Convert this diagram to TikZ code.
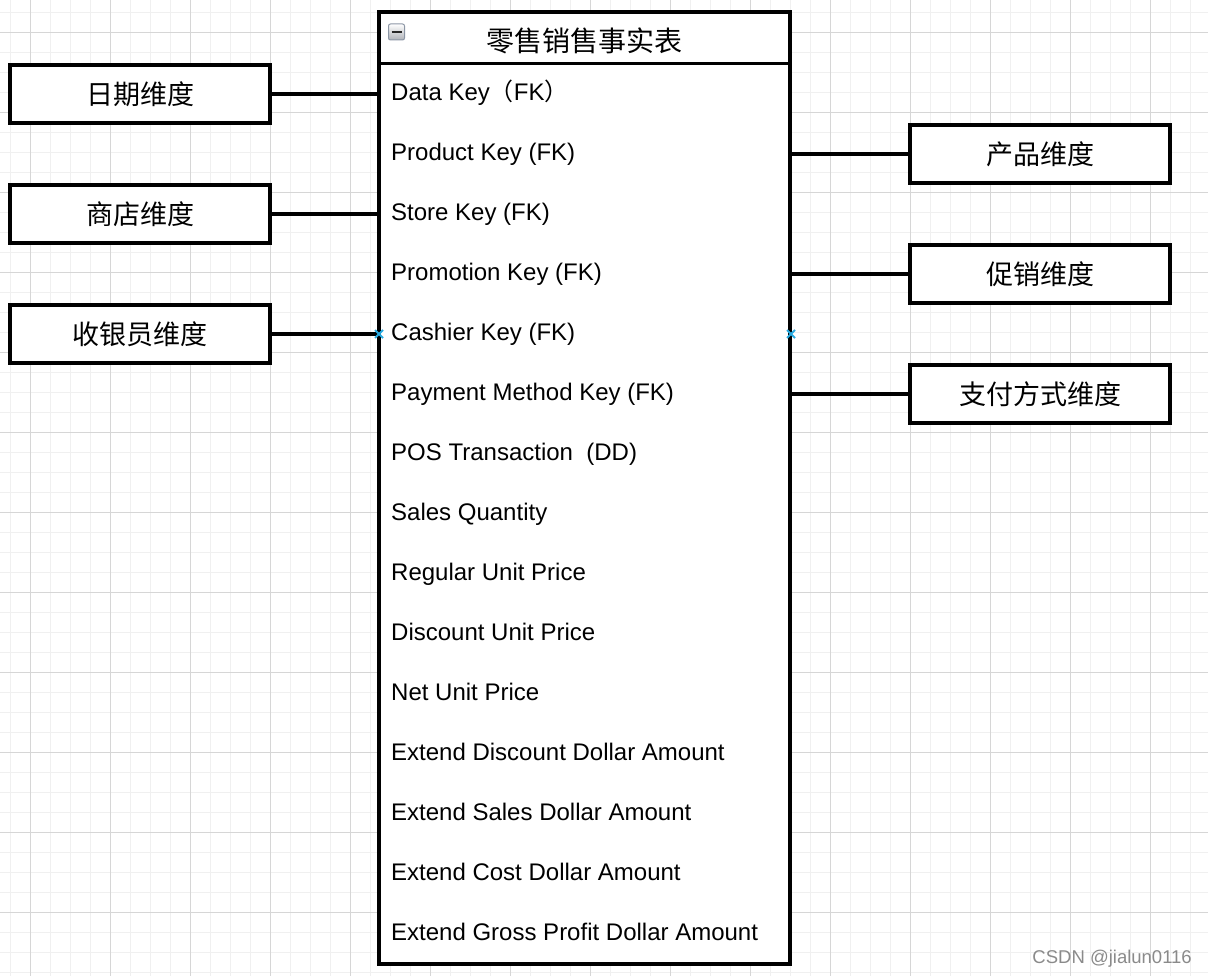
\documentclass[tikz,border=0pt]{standalone}
\usepackage{fontspec}
\usetikzlibrary{calc}
\setmainfont{Liberation Sans}
\newfontfamily\cjk{Noto Sans CJK SC}
\definecolor{minorgrid}{HTML}{F0F0F0}
\definecolor{majorgrid}{HTML}{D6D6D6}
\definecolor{markblue}{RGB}{41,170,225}
\definecolor{wmgray}{HTML}{8A8A8A}
\definecolor{iconborder}{RGB}{140,150,165}
\definecolor{iconfill}{RGB}{175,178,184}
\definecolor{icondark}{RGB}{40,40,40}
\begin{document}
\begin{tikzpicture}[x=1pt,y=-1pt,
  dimbox/.style={draw=black,line width=3.5pt,fill=white,minimum width=260pt,minimum height=58pt,inner sep=0pt,font=\cjk\fontsize{27}{30}\selectfont},
  link/.style={line width=3.5pt},
  field/.style={anchor=base west,inner sep=0pt,font=\fontsize{24}{28}\selectfont},
  mk/.style={draw=markblue,line width=1.8pt}]
\useasboundingbox (0,0) rectangle (1208,976);
\fill[white] (0,0) rectangle (1208,976);
% grid
\foreach \i in {0,...,59} \draw[minorgrid,line width=1.2pt] (10.5+20*\i,0) -- (10.5+20*\i,976);
\foreach \i in {0,...,48} \draw[minorgrid,line width=1.2pt] (0,12.5+20*\i) -- (1208,12.5+20*\i);
\foreach \i in {0,...,14} \draw[majorgrid,line width=1pt] (30.5+80*\i,0) -- (30.5+80*\i,976);
\foreach \i in {0,...,11} \draw[majorgrid,line width=1pt] (0,32.5+80*\i) -- (1208,32.5+80*\i);
% fact table
\node[draw=black,line width=4pt,fill=white,minimum width=411pt,minimum height=951.5pt,inner sep=0pt] (tbl) at (584.5,488.25) {};
\coordinate (hl) at (379,63.5);
\coordinate (hr) at (790,63.5);
\draw[line width=3.5pt] (hl) -- (hr);
\node[inner sep=0pt,font=\cjk\fontsize{28}{32}\selectfont] (title) at (584,40.5) {零售销售事实表};
% collapse icon
\node[draw=iconborder,line width=1pt,rounded corners=2pt,top color=white,bottom color=iconfill,minimum width=16pt,minimum height=16pt,inner sep=0pt] (icon) at (396.5,32) {};
\draw[line width=2.4pt,icondark] ($(icon.center)+(-5,0.3)$) -- ($(icon.center)+(5,0.3)$);
% fields
\node[field] (f1) at (391,100.6) {Data Key{\cjk（}FK{\cjk）}};
\node[field] (f2) at (391,160.6) {Product Key (FK)};
\node[field] (f3) at (391,220.6) {Store Key (FK)};
\node[field] (f4) at (391,280.6) {Promotion Key (FK)};
\node[field] (f5) at (391,340.6) {Cashier Key (FK)};
\node[field] (f6) at (391,400.6) {Payment Method Key (FK)};
\node[field] (f7) at (391,460.6) {POS Transaction\ \ (DD)};
\node[field] (f8) at (391,520.6) {Sales Quantity};
\node[field] (f9) at (391,580.6) {Regular Unit Price};
\node[field] (f10) at (391,640.6) {Discount Unit Price};
\node[field] (f11) at (391,700.6) {Net Unit Price};
\node[field] (f12) at (391,760.6) {Extend Discount Dollar Amount};
\node[field] (f13) at (391,820.6) {Extend Sales Dollar Amount};
\node[field] (f14) at (391,880.6) {Extend Cost Dollar Amount};
\node[field] (f15) at (391,940.6) {Extend Gross Profit Dollar Amount};
% dimension boxes
\node[dimbox] (d1) at (140,94) {日期维度};
\node[dimbox] (d2) at (140,214) {商店维度};
\node[dimbox] (d3) at (140,334) {收银员维度};
\node[dimbox] (d4) at (1040,154) {产品维度};
\node[dimbox] (d5) at (1040,274) {促销维度};
\node[dimbox] (d6) at (1040,394) {支付方式维度};
% connectors
\draw[link] (d1.east) -- (tbl.west |- d1.east);
\draw[link] (d2.east) -- (tbl.west |- d2.east);
\draw[link] (d3.east) -- (tbl.west |- d3.east);
\draw[link] (d4.west) -- (tbl.east |- d4.west);
\draw[link] (d5.west) -- (tbl.east |- d5.west);
\draw[link] (d6.west) -- (tbl.east |- d6.west);
% blue markers
\coordinate (m1) at (379,334);
\coordinate (m2) at (791,334);
\draw[mk] ($(m1)+(-4,-4)$) -- ($(m1)+(4,4)$) ($(m1)+(-4,4)$) -- ($(m1)+(4,-4)$);
\draw[mk] ($(m2)+(-4,-4)$) -- ($(m2)+(4,4)$) ($(m2)+(-4,4)$) -- ($(m2)+(4,-4)$);
% watermark
\node[anchor=base east,inner sep=0pt,text=wmgray,font=\fontsize{18.5}{20}\selectfont] (wm) at (1192,963) {CSDN @jialun0116};
\end{tikzpicture}
\end{document}
